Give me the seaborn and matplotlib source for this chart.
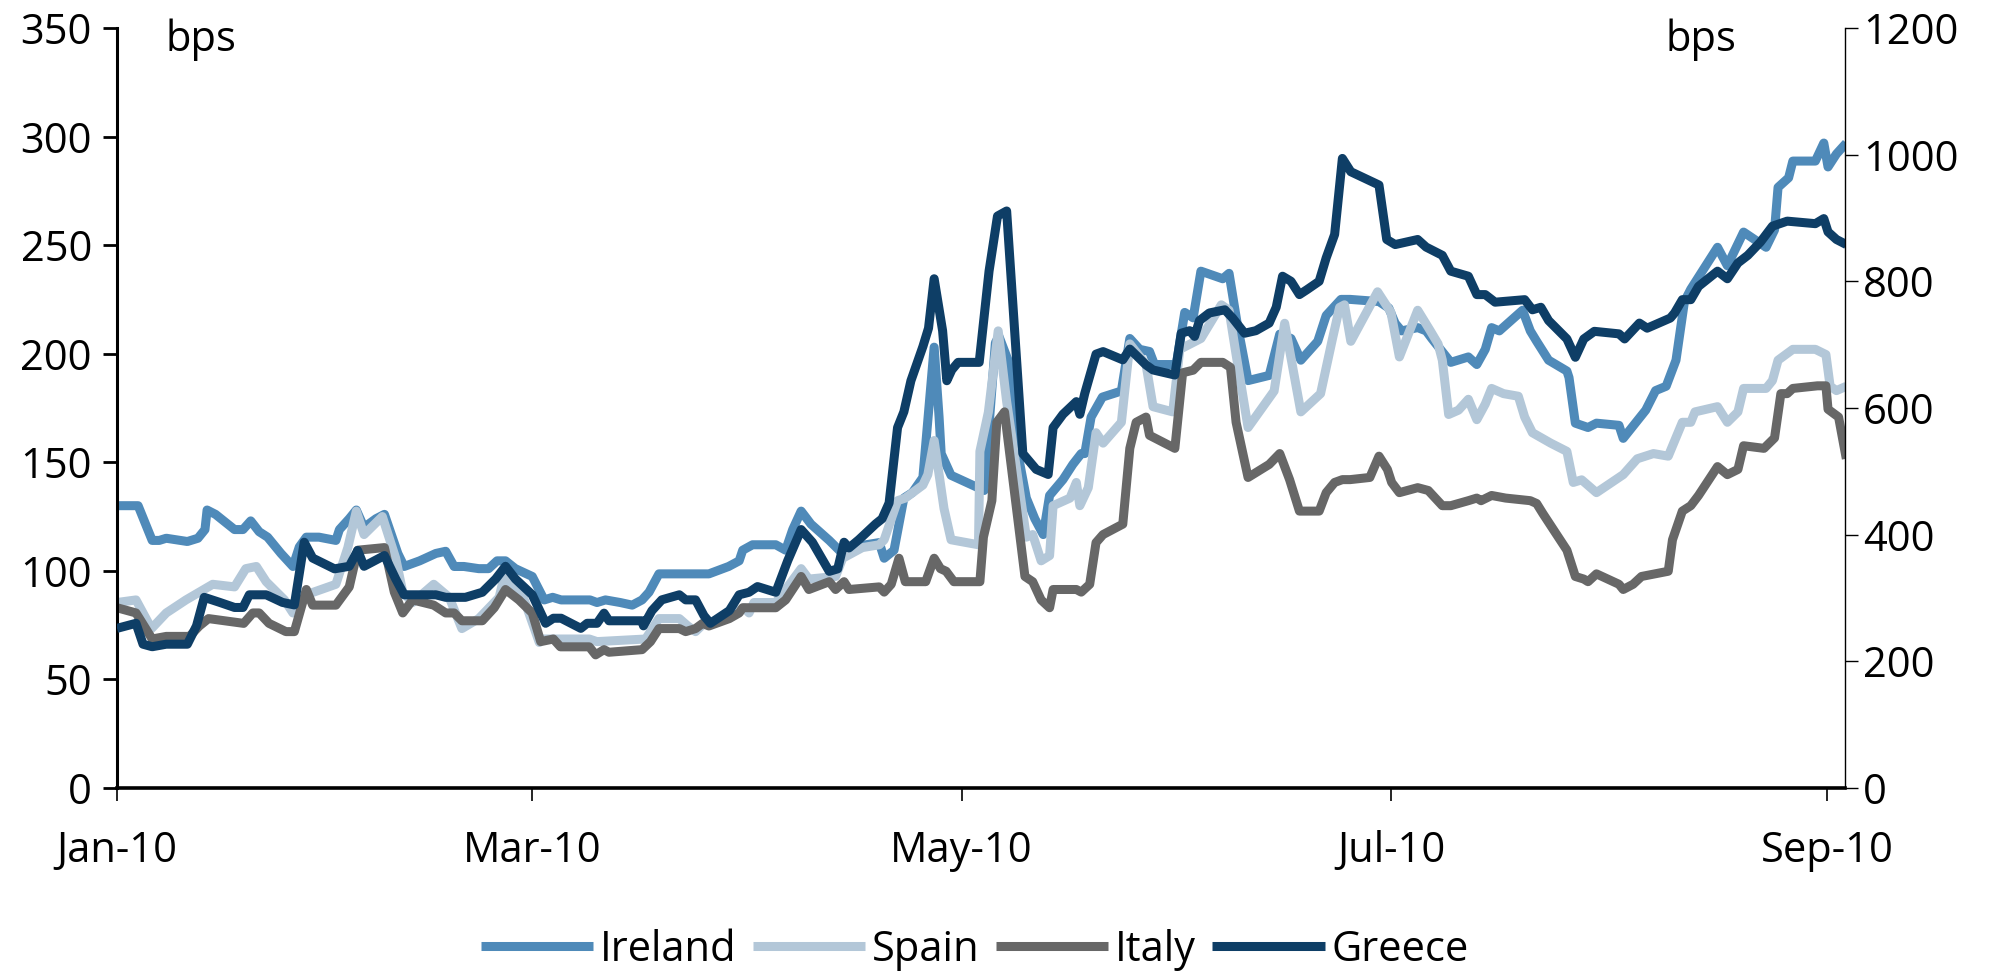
"""Peripheral spreads vs Bunds, Jan-Sep 2010 (Greece on the right axis)."""

import matplotlib

matplotlib.use("Agg")
import matplotlib.dates as mdates
import matplotlib.pyplot as plt
import pandas as pd
import seaborn as sns

START = pd.Timestamp("2010-01-01")

# days since 1 Jan 2010 and spread in bps
ireland_day = [0, 3, 5, 6, 7, 10, 11.5, 12.5, 12.8, 14, 16.7, 17.9, 19, 20.2, 21.4, 23.3, 25, 25.9,
               26.9, 28.7, 31.1, 31.6, 33, 34, 35.1, 36.8, 38, 39.9, 40.8, 43, 45.3, 46.7, 47.9, 49.3,
               51.4, 52.8, 54, 55.2, 56.6, 59, 60.7, 61.9, 63.1, 67.2, 68.2, 69.4, 71.5, 73.2, 74.6,
               75.6, 77, 84.1, 86.9, 88.4, 88.9, 90.3, 93.6, 95, 96, 97.2, 98.6, 101.2, 102.6, 104.5,
               106.4, 108.3, 109, 110.4, 111.8, 113, 114.5, 116.1, 116.8, 117.1, 118.5, 122.5, 123.2,
               124.8, 125.3, 126.6, 128, 129.2, 130.4, 131.6, 132.5, 134.4, 135.8, 137, 137.5, 138.4,
               140, 142.7, 143.9, 145.3, 146.7, 147.4, 150.5, 151.7, 152.9, 154, 157.1, 158, 159.2,
               160.7, 163.7, 165.2, 166.8, 168.2, 170.6, 171.8, 173.9, 175.2, 179.3, 180.7, 181.6,
               182.5, 184.8, 186, 186.8, 189.5, 192, 193.2, 194.4, 195.3, 196.4, 199.7, 200.8, 201.7,
               203.4, 206, 206.3, 207.2, 209, 210.2, 213.4, 214, 217.2, 218.6, 220.1, 221.5, 222.7,
               223.6, 227.4, 228.8, 231.1, 234.3, 235.5, 236, 237.5, 238.1, 241.3, 242.5, 243.1,
               244.3, 245.7]
ireland_bps = [130, 130, 114, 114, 115, 113.5, 115, 119, 128, 126, 119, 119, 123, 118, 115.5, 108, 102,
               111, 115.5, 115.5, 114, 119, 124, 128, 120, 124, 126, 108, 102, 104.6, 108, 109, 102, 102,
               101, 101, 104.6, 104.6, 101, 97.4, 86.6, 87.8, 86.6, 86.6, 85.4, 86.6, 85.4, 84.2, 86.6,
               90.2, 98.6, 98.6, 102, 104.6, 109.5, 112, 112, 109.5, 119, 127.5, 121.5, 114, 109.5, 110.7,
               112, 113, 105.8, 109.5, 133.5, 136, 143, 203, 170.8, 154, 144, 138, 137,
               205, 208, 197, 154, 133.5, 124, 116.7, 134.7, 142, 149, 154, 154, 170.8,
               180, 182.8, 207, 202, 201, 195, 195, 219, 216.5, 238, 234.5, 237, 213,
               187.6, 190, 209, 207, 197, 205.7, 217.6, 225, 225, 224, 221, 214,
               210.5, 212, 210.5, 207, 196, 198.5, 195, 202, 212, 210.5, 220, 210.5, 205.7,
               197, 192, 189, 168, 166, 168, 167, 161, 174, 183, 185, 197, 224,
               229.7, 249, 240.5, 256, 249, 257, 276.6, 281, 288.7, 288.7, 297, 286,
               292, 297]

spain_day = [0, 2.7, 4.9, 7, 9.8, 13.6, 16.7, 18.3, 19.8, 21.2, 23.8, 25, 26.9, 31.1, 32.8, 34, 35.1,
             37.7, 39.6, 40.6, 42, 45, 47.2, 49, 51.4, 54.3, 55, 57.6, 60, 60.2, 67.1, 68.2, 75.1, 77,
             79.9, 81.1, 82.2, 83.4, 86.5, 88.4, 89.1, 89.8, 90.5, 93.6, 95, 97.2, 98.3, 102.1, 103.1,
             105.9, 108.3, 109, 110.9, 112, 114.5, 115.2, 116.1, 117.5, 118.5, 122.4, 122.6, 123.8,
             125.2, 126.4, 129.2, 130.1, 131.3, 132.5, 133, 135.4, 136.3, 136.8, 138, 139.1, 140.1,
             142.7, 143.9, 146.2, 147.2, 150, 151, 154, 156.9, 158, 159, 160.7, 164.4, 165.9, 168.2,
             171, 172.7, 173.7, 174.4, 175.3, 179.1, 181, 182.2, 184.8, 186.6, 187.7, 188.3, 189.2,
             190.6, 192, 193.2, 194.4, 195.3, 197, 199.1, 200, 201.1, 203.7, 206, 206.9, 208.1, 210.2,
             214, 216, 218.3, 220.4, 222.4, 223.6, 224.2, 227.4, 228.8, 230.3, 231.1, 234.3, 235.2,
             236, 238.1, 241.3, 242.8, 243.4, 244.3, 245.7]
spain_bps = [85.4, 86.6, 73.4, 80.6, 86.6, 93.8, 92.6, 101, 102, 95, 86.6, 80.6, 89, 93.8, 110.7, 127.5,
             116.7, 125, 105.8, 90.2, 85.4, 93.8, 87.8, 73.4, 78, 87.8, 97.4, 89, 67, 68.6, 68.6, 67.4,
             68.6, 78, 78, 74.6, 72, 75.8, 78, 81.8, 83, 80.6, 85.4, 85.4, 91.4, 101, 96.2, 97.4, 105.8,
             110.7, 112, 114.3, 132.3, 133.5, 139.5, 144.3, 160, 128.7, 114.3, 112, 155, 173,
             210.5, 178, 115.5, 116.7, 104.6, 107, 130, 133.5, 140.7, 130, 138.3, 163.6, 158.8,
             168.4, 204.5, 195, 175.6, 173.2, 202, 207, 222.5, 220, 199.6, 166, 182.8, 214, 173.2,
             181.6, 207, 221.3, 222.5, 205.7, 228.5, 219, 198.5, 220, 210.5, 204.5, 197, 172,
             174, 179, 169.6, 176.8, 184, 181.6, 180.4, 170.8, 163.6, 158.8, 155, 140.7, 141.9, 136,
             144.3, 151.6, 154, 152.8, 168.4, 168.4, 173.2, 175.6, 168.4, 173.2, 184, 184, 187.6,
             197, 202, 202, 199.6, 185, 183, 185]

italy_day = [0, 2.7, 5, 7, 10.3, 11.7, 13, 18, 19.3, 20.2, 21.6, 24, 25.2, 26.9, 27.8, 31.1, 33, 34.2,
             38, 39.4, 40.6, 42, 45, 46.7, 47.9, 49, 51.9, 53.6, 55.2, 57.1, 59, 60.2, 62, 63, 67.1,
             68, 69.2, 69.9, 74.6, 75.8, 77, 79.9, 80.8, 82.2, 83.2, 84.1, 87, 88.4, 88.9, 93.6, 95,
             97.2, 98.3, 101.2, 102.1, 103.3, 104, 108.3, 109, 110, 111.1, 112, 114.9, 116.1, 117,
             117.8, 118.9, 122.6, 123.1, 124.3, 125, 126.1, 129, 130.1, 131.3, 132.5, 133, 136.3,
             137, 138.2, 139.1, 140.1, 142.9, 143.9, 144.8, 146.2, 146.7, 150.3, 151.4, 152.9, 154,
             157.1, 158.2, 159, 160.7, 163.7, 165.2, 166.6, 168, 170.8, 171.8, 173, 174.1, 175.2,
             178, 179.3, 180.5, 181.1, 182.2, 184.8, 186.3, 188.3, 189.5, 192, 193.2, 193.8, 195.3,
             197.3, 200.8, 201.7, 202.6, 206, 207.2, 208.4, 209, 210.2, 213.4, 214, 215.4, 216.6,
             220.4, 221, 222.4, 223.6, 224.7, 227.4, 228.8, 230.3, 231.1, 234, 235.5, 236.4, 237.3,
             238.1, 241.6, 242.8, 243.1, 244.6, 245.7]
italy_bps = [83, 80.6, 68.6, 69.8, 69.8, 74.6, 78, 75.8, 80.6, 80.6, 75.8, 72, 72, 91.4, 84.2, 84.2, 92.6,
             109.5, 110.7, 90.2, 80.6, 86.6, 84.2, 80.6, 80.6, 77, 77, 83, 91.4, 86.6, 80.6, 67.4, 68.6,
             65, 65, 61.3, 63.7, 62.5, 63.7, 67.4, 73.4, 73.4, 72, 73.4, 75.8, 74.6, 78, 80.6, 83, 83,
             86.6, 97.4, 91.4, 95, 91.4, 95, 91.4, 92.6, 90.2, 93.8, 105.8, 95, 95, 105.8, 101,
             99.8, 95, 95, 115.5, 132.3, 168.4, 173.2, 97.4, 95, 86.6, 83, 91.4, 91.4,
             90.2, 93.8, 113, 116.7, 121.5, 156.4, 168.4, 170.8, 162.4, 156.4, 191.2, 192.4, 196,
             196, 193.7, 168.4, 143, 149, 154, 142, 127.5, 127.5, 136, 140.7, 142, 142,
             143, 152.8, 146.7, 140.7, 136, 138.3, 137, 130, 130, 132.3, 133.5, 132.3, 134.7,
             133.5, 132.3, 131, 126.3, 109.5, 97.4, 96.2, 95, 98.6, 93.8, 91.4, 93.8, 97.4,
             99.8, 114.3, 127.5, 130, 134.7, 148, 144.3, 146.7, 157.6, 156.4, 161.2, 181.6, 181.6,
             184, 185.2, 185.2, 174.4, 170.8, 151.6]

greece_day = [0, 2.7, 3.7, 5, 7, 10, 11.3, 12.4, 14.6, 16.7, 17.9, 18.8, 21.2, 23.5, 25.2, 26.6, 27.8,
              30.9, 33, 34.2, 35.1, 38, 39.6, 40.8, 45.3, 46.7, 47.6, 49.5, 51.9, 53.8, 55.2, 56.6, 59,
              60.9, 62, 63.1, 65.9, 66.8, 68.2, 69.2, 69.9, 74.6, 74.8, 76, 77.4, 79.9, 80.8, 82.2,
              83.4, 84.3, 87, 88.4, 89.8, 91, 93.6, 95.3, 97.2, 98.8, 101.2, 102.4, 103.3, 104, 105.4,
              107.8, 108.7, 109.7, 110.9, 111.8, 112.8, 114.5, 115.3, 116.1, 117.3, 117.9, 118.6,
              119.5, 122.5, 123.9, 125.1, 126.4, 128.7, 130.6, 132.3, 133, 134.4, 136.3, 136.8, 137.5,
              139.1, 140.1, 142.9, 143.9, 146.2, 147.2, 150.3, 151.2, 152.4, 153.1, 153.8, 155.2,
              157.4, 158.5, 160.2, 161.8, 163.7, 164.7, 165.6, 166.8, 168, 169.1, 170.8, 171.8, 173,
              174.1, 175.3, 179.3, 180.4, 181.6, 184.8, 186, 188.3, 189.5, 192, 193.2, 194.4, 195.8,
              200, 201.1, 202.3, 203.4, 206, 207.2, 208.4, 209.9, 213.4, 214.2, 216.3, 217.4, 220.7,
              221.3, 222.4, 223.6, 224.7, 227.4, 228.8, 230.3, 231.7, 233.5, 235.2, 237.3, 241.3,
              242.5, 243.1, 244.3, 245.7]
greece_bps = [252, 260, 227, 223, 227, 227, 256, 301, 293, 285, 285, 305, 305, 293, 289, 388, 363,
              346, 350, 375, 350, 367, 330, 305, 305, 301, 301, 301, 309, 330, 350, 330, 305,
              260, 268, 268, 252, 260, 260, 276, 264, 264, 256, 280, 297, 305, 297, 297,
              272, 260, 280, 305, 309, 318, 309, 359, 408, 388, 342, 346, 388, 379, 392,
              417, 425, 450, 569, 594, 643, 697, 726, 804, 722, 643, 660,
              672, 672, 816, 903, 911, 528, 503, 495, 569, 590, 610, 590, 623,
              685, 689, 676, 693, 668, 660, 652, 718, 722, 713, 738, 750,
              755, 742, 718, 722, 734, 759, 808, 800, 779, 787, 800, 837, 874,
              994, 973, 952, 866, 858, 866, 854, 841, 816, 808, 779, 779, 767,
              771, 755, 759, 738, 709, 680, 709, 721, 717, 709, 734, 726, 742,
              750, 771, 771, 792, 816, 804, 829, 841, 862, 887, 895, 891,
              899, 878, 866, 858]

COLORS = {"Ireland": "#4f8ab9", "Spain": "#b3c7d8", "Italy": "#676767", "Greece": "#0e3e66"}


def to_dates(days):
    return START + pd.to_timedelta(days, unit="D")


def main() -> None:
    sns.set_style("white")
    plt.rcParams["font.family"] = ["Open Sans", "DejaVu Sans"]
    plt.rcParams["text.color"] = "black"
    plt.rcParams["xtick.color"] = "black"
    plt.rcParams["ytick.color"] = "black"
    fs = 30

    fig = plt.figure(figsize=(19.93, 9.71), dpi=100)
    ax = fig.add_axes([0.0587, 0.1885, 0.8670, 0.7827])
    ax2 = ax.twinx()

    kw = dict(linewidth=6.5, solid_joinstyle="round", solid_capstyle="butt")
    sns.lineplot(x=to_dates(ireland_day), y=ireland_bps, ax=ax, color=COLORS["Ireland"], label="Ireland", **kw)
    sns.lineplot(x=to_dates(spain_day), y=spain_bps, ax=ax, color=COLORS["Spain"], label="Spain", **kw)
    sns.lineplot(x=to_dates(italy_day), y=italy_bps, ax=ax, color=COLORS["Italy"], label="Italy", **kw)
    sns.lineplot(x=to_dates(greece_day), y=greece_bps, ax=ax2, color=COLORS["Greece"], label="Greece", **kw)

    h1, l1 = ax.get_legend_handles_labels()
    h2, l2 = ax2.get_legend_handles_labels()
    for a in (ax, ax2):
        if a.get_legend():
            a.get_legend().remove()

    ax.set_xlim(START, START + pd.Timedelta(days=245.5))
    ax.set_ylim(0, 350)
    ax2.set_ylim(0, 1200)
    ax.set_yticks(range(0, 351, 50))
    ax2.set_yticks(range(0, 1201, 200))
    ax.xaxis.set_major_locator(mdates.MonthLocator(bymonth=[1, 3, 5, 7, 9]))
    ax.xaxis.set_major_formatter(mdates.DateFormatter("%b-%y"))
    ax.set_xlabel("")
    ax.set_ylabel("")
    ax2.set_ylabel("")

    for s in ("top", "right"):
        ax.spines[s].set_visible(False)
    for s in ("top", "left", "bottom"):
        ax2.spines[s].set_visible(False)
    ax.spines["left"].set_linewidth(2.2)
    ax.spines["bottom"].set_linewidth(2.6)
    ax2.spines["right"].set_linewidth(1.0)
    for s in ("left", "bottom", "right"):
        ax.spines[s].set_color("black")
        ax2.spines[s].set_color("black")

    ax.tick_params(axis="y", direction="out", length=10, width=2, pad=8, labelsize=fs, left=True)
    ax.tick_params(axis="x", direction="out", length=9, width=1.2, pad=21, labelsize=fs, bottom=True)
    ax2.tick_params(axis="y", direction="out", length=9, width=1, pad=4, labelsize=fs, right=True)

    ax.text(0.028, 0.985, "bps", transform=ax.transAxes, fontsize=fs, va="center", ha="left")
    ax.text(0.896, 0.985, "bps", transform=ax.transAxes, fontsize=fs, va="center", ha="left")

    fig.legend(h1 + h2, l1 + l2, loc="center", bbox_to_anchor=(0.489, 0.022), ncol=4, frameon=False,
               fontsize=fs, handlelength=2.7, handletextpad=0.15, columnspacing=0.4)

    fig.savefig("out.png", dpi=100)
    plt.close(fig)


if __name__ == "__main__":
    main()
